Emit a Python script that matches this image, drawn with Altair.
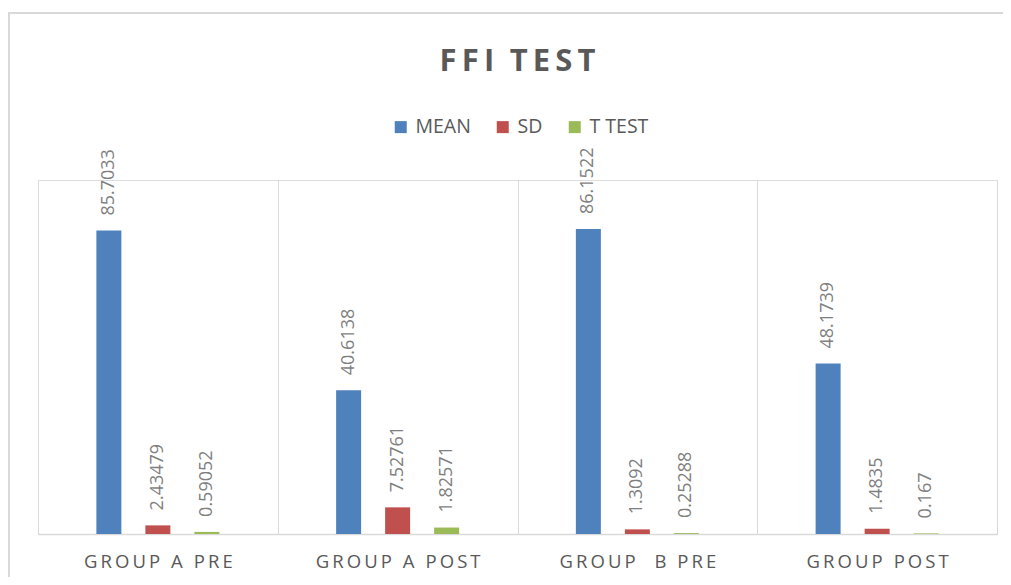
import altair as alt
import pandas as pd

groups = ["GROUP A PRE", "GROUP A POST", "GROUP  B PRE", "GROUP POST"]
series = ["MEAN", "SD", "T TEST"]
mean_vals = [85.7033, 40.6138, 86.1522, 48.1739]
sd_vals = [2.43479, 7.52761, 1.3092, 1.4835]
t_vals = [0.59052, 1.82571, 0.25288, 0.167]
colors = ["#4f81bd", "#c0504d", "#9bbb59"]

rows = []
for s, vals in zip(series, [mean_vals, sd_vals, t_vals]):
    for g, v in zip(groups, vals):
        rows.append({"group": g, "series": s, "value": v, "label": str(v)})
df = pd.DataFrame(rows)

FONT = "Open Sans"
TS = "\u2009"

x = alt.X(
    "group:N",
    sort=groups,
    scale=alt.Scale(paddingInner=0, paddingOuter=0),
    axis=alt.Axis(
        title=None,
        labelAngle=0,
        labelFont=FONT,
        labelFontSize=18.5,
        labelColor="#595959",
        labelPadding=18,
        labelExpr="join(split(datum.label, ''), '\u2009')",
        ticks=False,
        tickBand="extent",
        grid=True,
        gridColor="#d9d9d9",
        gridWidth=1,
        domainColor="#d9d9d9",
        domainWidth=1.5,
    ),
)
xo = alt.XOffset("series:N", sort=series, scale=alt.Scale(paddingInner=0, paddingOuter=0.946))
y = alt.Y("value:Q", scale=alt.Scale(domain=[0, 100]), axis=None)

bars = alt.Chart(df).mark_bar(width=25).encode(
    x=x,
    xOffset=xo,
    y=y,
    color=alt.Color(
        "series:N",
        sort=series,
        scale=alt.Scale(domain=series, range=colors),
        legend=alt.Legend(
            title=None,
            orient="none",
            legendX=353,
            legendY=-63,
            direction="horizontal",
            symbolType="square",
            symbolSize=144,
            symbolStrokeWidth=0,
            labelFont=FONT,
            labelFontSize=19.5,
            labelColor="#595959",
            labelOffset=5,
            columnPadding=22,
            padding=0,
        ),
    ),
)

labels = alt.Chart(df).mark_text(
    angle=270,
    align="left",
    baseline="middle",
    dx=15,
    font=FONT,
    fontSize=18,
    color="#7f7f7f",
).encode(x=x, xOffset=xo, y=y, text="label:N")

frame = alt.Chart(df).mark_rect(fill=None, stroke="#d9d9d9", strokeWidth=1.5).encode(
    x=alt.value(-29),
    x2=alt.value(975),
    y=alt.value(-167),
    y2=alt.value(420),
)

chart = (
    alt.layer(frame, bars, labels)
    .properties(
        width=959,
        height=354,
        autosize=alt.AutoSizeParams(type="none"),
        padding={"left": 30, "top": 172, "right": 6, "bottom": 43},
        title=alt.TitleParams(
            text=TS.join("FFI") + "\u2002" + TS.join("TEST"),
            font=FONT,
            fontSize=31,
            fontWeight="bold",
            color="#595959",
            anchor="middle",
            baseline="alphabetic",
            offset=-90,
        ),
    )
    .configure_view(stroke=None)
    .configure(background="white")
)

chart.save("out.html", embed_options={"renderer": "svg", "actions": False})
